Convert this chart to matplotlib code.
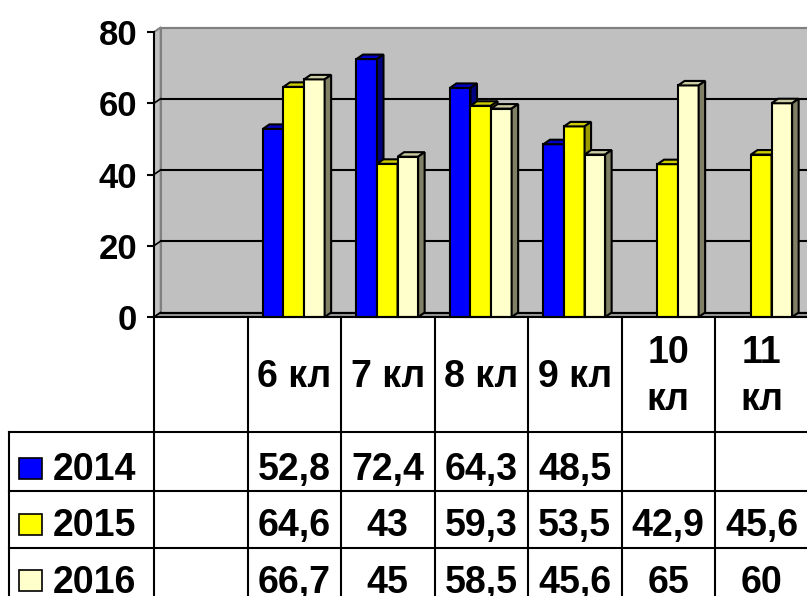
import matplotlib
matplotlib.use("Agg")
import matplotlib.pyplot as plt
from matplotlib.patches import Polygon, Rectangle

categories = ["", "6 кл", "7 кл", "8 кл", "9 кл", "10 кл", "11 кл"]
series_names = ["2014", "2015", "2016"]
v2014 = [None, 52.8, 72.4, 64.3, 48.5, None, None]
v2015 = [None, 64.6, 43, 59.3, 53.5, 42.9, 45.6]
v2016 = [None, 66.7, 45, 58.5, 45.6, 65, 60]
yticks = [0, 20, 40, 60, 80]

series = [v2014, v2015, v2016]
front_c = ["#0000FF", "#FFFF00", "#FFFFCC"]
top_c = ["#0000C8", "#CCCC00", "#CCCCA4"]
side_c = ["#000080", "#999900", "#808066"]

plt.rcParams['font.family'] = ['Liberation Sans', 'DejaVu Sans']

W, H = 807, 596
fig = plt.figure(figsize=(W / 100, H / 100), dpi=100)

col_px = 93.5
x0_px = 154
y0_px = 317
y80_px = 32
ncat = len(categories)

ax = fig.add_axes([x0_px / W, (H - y0_px) / H, ncat * col_px / W, (y0_px - y80_px) / H])
ax.set_xlim(0, ncat)
ax.set_ylim(0, 80)
ppu = (y0_px - y80_px) / 80.0
dx = 6.5 / col_px
dy = 4.5 / ppu

# back wall
ax.add_patch(Polygon([(dx, dy), (ncat + dx, dy), (ncat + dx, 80 + dy), (dx, 80 + dy)],
                     closed=True, facecolor="#C0C0C0", edgecolor="#808080", lw=1.5,
                     zorder=0, clip_on=False))
# left side wall
ax.add_patch(Polygon([(0, 0), (dx, dy), (dx, 80 + dy), (0, 80)], closed=True,
                     facecolor="#C0C0C0", edgecolor="#808080", lw=1.2, zorder=0.5, clip_on=False))
# floor
ax.add_patch(Polygon([(0, 0), (ncat, 0), (ncat + dx, dy), (dx, dy)], closed=True,
                     facecolor="#9A9A9A", edgecolor="#808080", lw=1.0, zorder=0.6, clip_on=False))
# gridlines
for v in yticks:
    c = "#808080" if v == 80 else "black"
    ax.plot([dx, ncat + dx], [v + dy, v + dy], color=c, lw=1.5, zorder=1, clip_on=False)
    ax.plot([0, dx], [v, v + dy], color=c, lw=1.2, zorder=1, clip_on=False)

# bars
w = 0.22
z = 2
for j in range(ncat):
    for i, vals in enumerate(series):
        v = vals[j]
        if v is None:
            continue
        xl = j + 0.5 - 1.5 * w + i * w - 0.005
        ax.bar(xl, v, width=w, align="edge", color=front_c[i], edgecolor="black",
               lw=1.5, zorder=z, clip_on=False)
        ax.add_patch(Polygon([(xl, v), (xl + w, v), (xl + w + dx, v + dy), (xl + dx, v + dy)],
                             closed=True, facecolor=top_c[i], edgecolor="black", lw=1.5,
                             zorder=z, clip_on=False))
        ax.add_patch(Polygon([(xl + w, 0), (xl + w + dx, dy), (xl + w + dx, v + dy), (xl + w, v)],
                             closed=True, facecolor=side_c[i], edgecolor="black", lw=1.5,
                             zorder=z, clip_on=False))
        z += 1

for s in ["top", "right"]:
    ax.spines[s].set_visible(False)
ax.spines["left"].set_linewidth(1.5)
ax.spines["bottom"].set_linewidth(1.5)
ax.spines["left"].set_zorder(50)
ax.spines["bottom"].set_zorder(50)
ax.set_xticks([])
ax.set_yticks(yticks)
ax.set_yticklabels([str(t) for t in yticks], fontsize=25, fontweight="bold")
ax.tick_params(axis="y", length=5, width=1.5, pad=7)

# table
tab_h = H - y0_px
tx = fig.add_axes([x0_px / W, 0, ncat * col_px / W, tab_h / H])
tx.set_xlim(0, ncat)
tx.set_ylim(tab_h, 0)
tx.axis("off")
xleft = (9 - x0_px) / col_px
row_lines = [432 - y0_px, 491 - y0_px, 548 - y0_px]
for k in range(ncat + 1):
    tx.plot([k, k], [0, tab_h], color="black", lw=1.5, clip_on=False)
tx.plot([xleft, xleft], [row_lines[0], tab_h], color="black", lw=1.5, clip_on=False)
for yl in row_lines:
    tx.plot([xleft, ncat], [yl, yl], color="black", lw=1.5, clip_on=False)

fs = 27
for j, lab in enumerate(categories):
    if not lab:
        continue
    if len(lab) > 4:
        parts = lab.split(" ")
        tx.text(j + 0.5, 363 - y0_px, parts[0], ha="center", va="baseline",
                fontsize=fs, fontweight="bold", clip_on=False)
        tx.text(j + 0.5, 410 - y0_px, parts[1], ha="center", va="baseline",
                fontsize=fs, fontweight="bold", clip_on=False)
    else:
        tx.text(j + 0.5, 387 - y0_px, lab, ha="center", va="baseline",
                fontsize=fs, fontweight="bold", clip_on=False)

row_base = [480.5 - y0_px, 536.5 - y0_px, 593 - y0_px]
sq_top = [458 - y0_px, 514 - y0_px, 570 - y0_px]
for i, vals in enumerate(series):
    tx.add_patch(Rectangle(((19 - x0_px) / col_px, sq_top[i] + 21), 23 / col_px, -21,
                           facecolor=front_c[i], edgecolor="black", lw=1.2, clip_on=False))
    tx.text((53 - x0_px) / col_px, row_base[i], series_names[i], ha="left", va="baseline",
            fontsize=fs, fontweight="bold", clip_on=False)
    for j, v in enumerate(vals):
        if v is None:
            continue
        s = f"{v:g}".replace(".", ",")
        tx.text(j + 0.5, row_base[i], s, ha="center", va="baseline",
                fontsize=fs, fontweight="bold", clip_on=False)

fig.savefig("out.png", dpi=100)
